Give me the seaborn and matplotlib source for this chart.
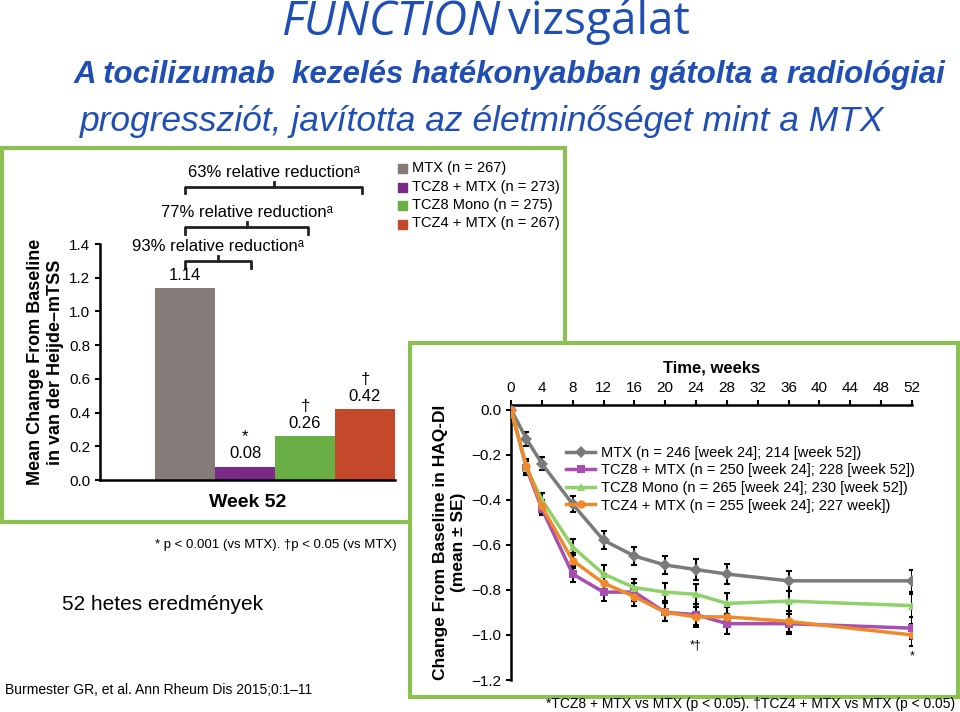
import matplotlib
matplotlib.use("Agg")
import matplotlib.pyplot as plt
import seaborn as sns
import pandas as pd
from matplotlib.patches import Rectangle

FONT = "Liberation Sans"
plt.rcParams["font.family"] = FONT

# ---- data ----
bar_groups = ["MTX (n = 267)", "TCZ8 + MTX (n = 273)", "TCZ8 Mono (n = 275)", "TCZ4 + MTX (n = 267)"]
bar_values = [1.14, 0.08, 0.26, 0.42]
bar_marks = ["", "*", "†", "†"]
bar_colors = ["#857b78", "#7b2a8a", "#6aaf45", "#c4492a"]
bar_yticks = [0.0, 0.2, 0.4, 0.6, 0.8, 1.0, 1.2, 1.4]

weeks = [0, 2, 4, 8, 12, 16, 20, 24, 28, 36, 52]
line_names = ["MTX (n = 246 [week 24]; 214 [week 52])",
              "TCZ8 + MTX (n = 250 [week 24]; 228 [week 52])",
              "TCZ8 Mono (n = 265 [week 24]; 230 [week 52])",
              "TCZ4 + MTX (n = 255 [week 24]; 227 week])"]
mtx = [0, -0.13, -0.24, -0.42, -0.58, -0.65, -0.69, -0.71, -0.73, -0.76, -0.76]
tcz8_mtx = [0, -0.26, -0.44, -0.73, -0.81, -0.81, -0.90, -0.91, -0.95, -0.95, -0.97]
tcz8_mono = [0, -0.26, -0.40, -0.61, -0.73, -0.79, -0.81, -0.82, -0.86, -0.85, -0.87]
tcz4_mtx = [0, -0.25, -0.43, -0.67, -0.77, -0.83, -0.90, -0.92, -0.92, -0.94, -1.00]
se = [0.02, 0.03, 0.03, 0.035, 0.04, 0.04, 0.04, 0.045, 0.045, 0.045, 0.05]
line_colors = ["#7a7a7a", "#a64fb0", "#8fd16a", "#f0892a"]
line_markers = ["D", "s", "^", "o"]
line_xticks = [0, 4, 8, 12, 16, 20, 24, 28, 32, 36, 40, 44, 48, 52]
line_yticks = [0.0, -0.2, -0.4, -0.6, -0.8, -1.0, -1.2]

W, H = 960, 712
fig = plt.figure(figsize=(9.6, 7.12), dpi=100)

def fx(x): return x / W
def fy(y): return 1 - y / H

# ---- titles ----
fig.text(fx(500), fy(22), "FUNCTION", color="#1f4fb4", fontsize=34, style="italic",
         ha="right", va="center", family="Open Sans")
fig.text(fx(508), fy(22), "vizsgálat", color="#1f4fb4", fontsize=33, ha="left", va="center",
         family="Open Sans")
fig.text(fx(510), fy(75), "A tocilizumab  kezelés hatékonyabban gátolta a radiológiai",
         color="#1f4fb4", fontsize=22.5, style="italic", weight="bold", ha="center", va="center")
fig.text(fx(482), fy(122), "progressziót, javította az életminőséget mint a MTX",
         color="#1f4fb4", fontsize=25.5, style="italic", ha="center", va="center")

# ---- bar panel frame ----
fig.patches.append(Rectangle((fx(2), fy(522)), fx(563), 374 / H, transform=fig.transFigure,
                             fill=False, edgecolor="#8cc152", lw=3, zorder=0.5))

# ---- bar chart ----
axb = fig.add_axes([fx(100), fy(480), fx(295), 236 / H])
axb.set_zorder(0)
dfb = pd.DataFrame({"group": bar_groups, "value": bar_values})
sns.barplot(data=dfb, x="group", y="value", hue="group", palette=bar_colors, width=1.0,
            ax=axb, legend=False, saturation=1)
axb.set_xlim(-1.42, 3.5)
axb.set_ylim(0, 1.4)
axb.set_yticks(bar_yticks)
axb.set_yticklabels([f"{v:.1f}" for v in bar_yticks], fontsize=11)
axb.set_xticks([])
axb.set_xlabel("Week 52", fontsize=14, weight="bold", labelpad=10)
axb.set_ylabel("Mean Change From Baseline\nin van der Heijde–mTSS", fontsize=13, weight="bold")
for s in ["top", "right"]:
    axb.spines[s].set_visible(False)
axb.spines["left"].set_linewidth(1.8)
axb.spines["bottom"].set_linewidth(1.8)
axb.tick_params(width=1.5)
for i, (v, m) in enumerate(zip(bar_values, bar_marks)):
    axb.text(i, v + 0.03, f"{v:.2f}", ha="center", va="bottom", fontsize=12, clip_on=False)
    if m:
        axb.text(i, v + 0.13, m, ha="center", va="bottom", fontsize=12, clip_on=False)
for (x2, yb, label) in [(1.1, 1.3, "93% relative reduction"),
                        (2.05, 1.5, "77% relative reduction"),
                        (2.95, 1.74, "63% relative reduction")]:
    axb.plot([0, 0, x2, x2], [yb - 0.04, yb, yb, yb - 0.04], color="#222", lw=2, clip_on=False)
    axb.plot([x2 / 2, x2 / 2], [yb, yb + 0.03], color="#222", lw=2, clip_on=False)
    axb.text(x2 / 2, yb + 0.04, label + "ᵃ", ha="center", va="bottom", fontsize=12, clip_on=False)
for i, (g, c) in enumerate(zip(bar_groups, bar_colors)):
    y = 168 + i * 18.5
    fig.patches.append(Rectangle((fx(398), fy(y + 5)), fx(9), 9 / H, transform=fig.transFigure,
                                 color=c))
    fig.text(fx(412), fy(y), g, fontsize=10.5, va="center")

fig.text(fx(155), fy(545), "* p < 0.001 (vs MTX). †p < 0.05 (vs MTX)", fontsize=9.5, va="center")
fig.text(fx(62), fy(604), "52 hetes eredmények", fontsize=15, va="center")
fig.text(fx(5), fy(690), "Burmester GR, et al. Ann Rheum Dis 2015;0:1–11", fontsize=10, va="center")

# ---- line panel ----
fig.patches.append(Rectangle((fx(410), fy(697)), fx(548), 354 / H, transform=fig.transFigure,
                             facecolor="white", edgecolor="#8cc152", lw=3, zorder=1))
axl = fig.add_axes([fx(511), fy(680), fx(401), 275 / H])
axl.set_zorder(2)
axl.patch.set_alpha(0)
rows = []
for name, vals in zip(line_names, [mtx, tcz8_mtx, tcz8_mono, tcz4_mtx]):
    for w, v in zip(weeks, vals):
        rows.append({"week": w, "value": v, "group": name})
dfl = pd.DataFrame(rows)
for vals in [mtx, tcz8_mtx, tcz8_mono, tcz4_mtx]:
    axl.errorbar(weeks, vals, yerr=se, fmt="none", ecolor="black", elinewidth=1.5, capsize=2.5,
                 capthick=1.5, zorder=2)
sns.lineplot(data=dfl, x="week", y="value", hue="group", style="group", palette=line_colors,
             markers=line_markers, dashes=False, lw=2.5, markersize=6, markeredgewidth=0,
             ax=axl, zorder=3)
axl.set_xlim(0, 52)
axl.set_ylim(-1.2, 0.02)
axl.xaxis.tick_top()
axl.xaxis.set_label_position("top")
axl.set_xticks(line_xticks)
axl.set_xticklabels([str(t) for t in line_xticks], fontsize=11)
axl.set_yticks(line_yticks)
axl.set_yticklabels(["0.0", "−0.2", "−0.4", "−0.6", "−0.8", "−1.0", "−1.2"], fontsize=11)
axl.set_xlabel("Time, weeks", fontsize=12, weight="bold", labelpad=6)
axl.set_ylabel("Change From Baseline in HAQ-DI\n(mean ± SE)", fontsize=12.5, weight="bold")
for s in ["bottom", "right"]:
    axl.spines[s].set_visible(False)
axl.spines["left"].set_linewidth(1.8)
axl.spines["top"].set_linewidth(1.8)
axl.tick_params(width=1.5)
axl.text(24, -1.02, "*†", ha="center", va="top", fontsize=9)
axl.text(52, -1.07, "*", ha="center", va="top", fontsize=9)
axl.legend(loc="upper right", bbox_to_anchor=(1.04, 0.9), frameon=False, fontsize=10.5,
           handlelength=2, handletextpad=0.4, labelspacing=0.25)

fig.text(fx(955), fy(704), "*TCZ8 + MTX vs MTX (p < 0.05). †TCZ4 + MTX vs MTX (p < 0.05)",
         fontsize=10, ha="right", va="center")

fig.savefig("out.png", dpi=100)
